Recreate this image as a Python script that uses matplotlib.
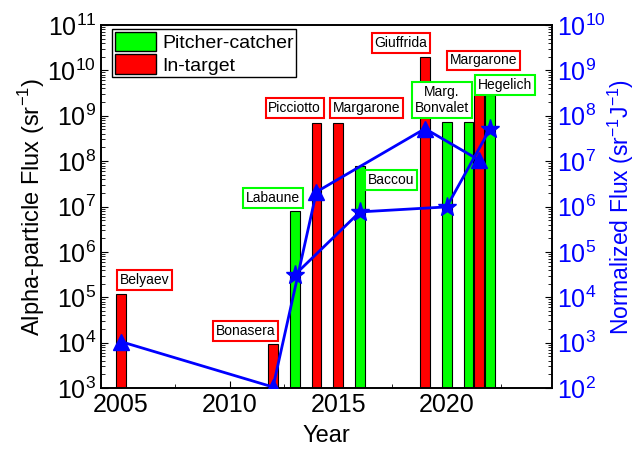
import matplotlib
matplotlib.use('Agg')
import matplotlib.pyplot as plt
from matplotlib.ticker import LogLocator, NullFormatter

plt.rcParams['font.family'] = ['Liberation Sans', 'DejaVu Sans']
plt.rcParams['mathtext.fontset'] = 'custom'
plt.rcParams['mathtext.rm'] = 'Liberation Sans'

# bar data (alpha-particle flux, sr^-1)
years = [2005, 2012, 2013, 2014, 2015, 2016, 2019, 2020, 2021, 2021.5, 2022]
flux = [1.2e5, 9.5e3, 8e6, 7e8, 7e8, 7.8e7, 2e10, 7.3e8, 7.3e8, 6.6e9, 2.8e9]
kind = ['in', 'in', 'pc', 'in', 'in', 'pc', 'in', 'pc', 'pc', 'in', 'pc']

# normalized flux (sr^-1 J^-1)
tri_years = [2005, 2012, 2014, 2019, 2021.5]
tri_flux = [1.05e3, 1.05e2, 2.1e6, 5.2e7, 1.05e7]
star_years = [2013, 2016, 2020, 2022]
star_flux = [3.1e4, 7.6e5, 9.8e5, 5.2e7]

# labels: text, kind, position (year, left-axis flux)
labels = ['Belyaev', 'Bonasera', 'Labaune', 'Picciotto', 'Margarone', 'Baccou',
          'Giuffrida', 'Marg.\nBonvalet', 'Margarone', 'Hegelich']
label_kind = ['in', 'in', 'pc', 'in', 'in', 'pc', 'in', 'pc', 'in', 'pc']
label_x = [2006.1, 2010.72, 2012.0, 2013.0, 2016.3, 2017.45, 2017.9, 2019.77, 2021.7, 2022.67]
label_y = [2.4e5, 1.8e4, 1.55e7, 1.5e9, 1.5e9, 3.8e7, 4e10, 2.2e9, 1.67e10, 4.8e9]

colors = {'pc': '#00ff00', 'in': '#ff0000'}

fig = plt.figure(figsize=(6.41, 4.5), dpi=100)
ax = fig.add_axes([0.1576, 0.1378, 0.7036, 0.8066])
ax2 = ax.twinx()

for x, f, k in zip(years, flux, kind):
    ax.bar(x, f, width=0.45, color=colors[k], edgecolor='black', linewidth=0.8, zorder=2)

ax.set_yscale('log')
ax.set_ylim(1e3, 1e11)
ax.set_xlim(2004.08, 2024.85)
ax.set_xticks([2005, 2010, 2015, 2020])
ax.set_xticks([2007.5, 2012.5, 2017.5, 2022.5], minor=True)
ax.yaxis.set_major_locator(LogLocator(base=10, numticks=20))
ax.yaxis.set_minor_locator(LogLocator(base=10, subs=range(2, 10), numticks=100))
ax.yaxis.set_minor_formatter(NullFormatter())
ax.tick_params(axis='both', which='major', direction='in', labelsize=18, length=5)
ax.tick_params(axis='both', which='minor', direction='in', length=3)
ax.set_xlabel('Year', fontsize=17, labelpad=6)
ax.set_ylabel(r'Alpha-particle Flux (sr$^{\mathdefault{-1}}$)', fontsize=17, labelpad=0)

for t, k, x, y in zip(labels, label_kind, label_x, label_y):
    ax.text(x, y, t, ha='center', va='center', fontsize=10, zorder=5,
            bbox=dict(boxstyle='square,pad=0.2', facecolor='white',
                      edgecolor=colors[k], linewidth=1.5))

ax2.plot(tri_years, tri_flux, color='#0000ff', lw=2, marker='^', ms=12, zorder=3)
ax2.plot(star_years, star_flux, color='#0000ff', lw=2, marker='*', ms=14, zorder=3)
ax2.set_yscale('log')
ax2.set_ylim(1e2, 1e10)
ax2.yaxis.set_major_locator(LogLocator(base=10, numticks=20))
ax2.yaxis.set_minor_locator(LogLocator(base=10, subs=range(2, 10), numticks=100))
ax2.yaxis.set_minor_formatter(NullFormatter())
ax2.tick_params(axis='y', which='major', direction='in', labelsize=18, length=5,
                labelcolor='#0000ff', color='black')
ax2.tick_params(axis='y', which='minor', direction='in', length=3)
ax2.set_ylabel(r'Normalized Flux (sr$^{\mathdefault{-1}}$J$^{\mathdefault{-1}}$)',
               fontsize=16.5, color='#0000ff', labelpad=0)

for s in list(ax.spines.values()) + list(ax2.spines.values()):
    s.set_linewidth(1.2)

h1 = plt.Rectangle((0, 0), 1, 1, facecolor='#00ff00', edgecolor='black')
h2 = plt.Rectangle((0, 0), 1, 1, facecolor='#ff0000', edgecolor='black')
leg = ax2.legend([h1, h2], ['Pitcher-catcher', 'In-target'], loc='upper left',
                 bbox_to_anchor=(0.025, 0.99), fontsize=14, fancybox=False,
                 edgecolor='black', framealpha=1,
                 handlelength=2.1, handleheight=1.2, borderpad=0.15,
                 labelspacing=0.1, handletextpad=0.3, borderaxespad=0.0)
leg.get_frame().set_linewidth(1.0)

fig.savefig('out.png', dpi=100)
